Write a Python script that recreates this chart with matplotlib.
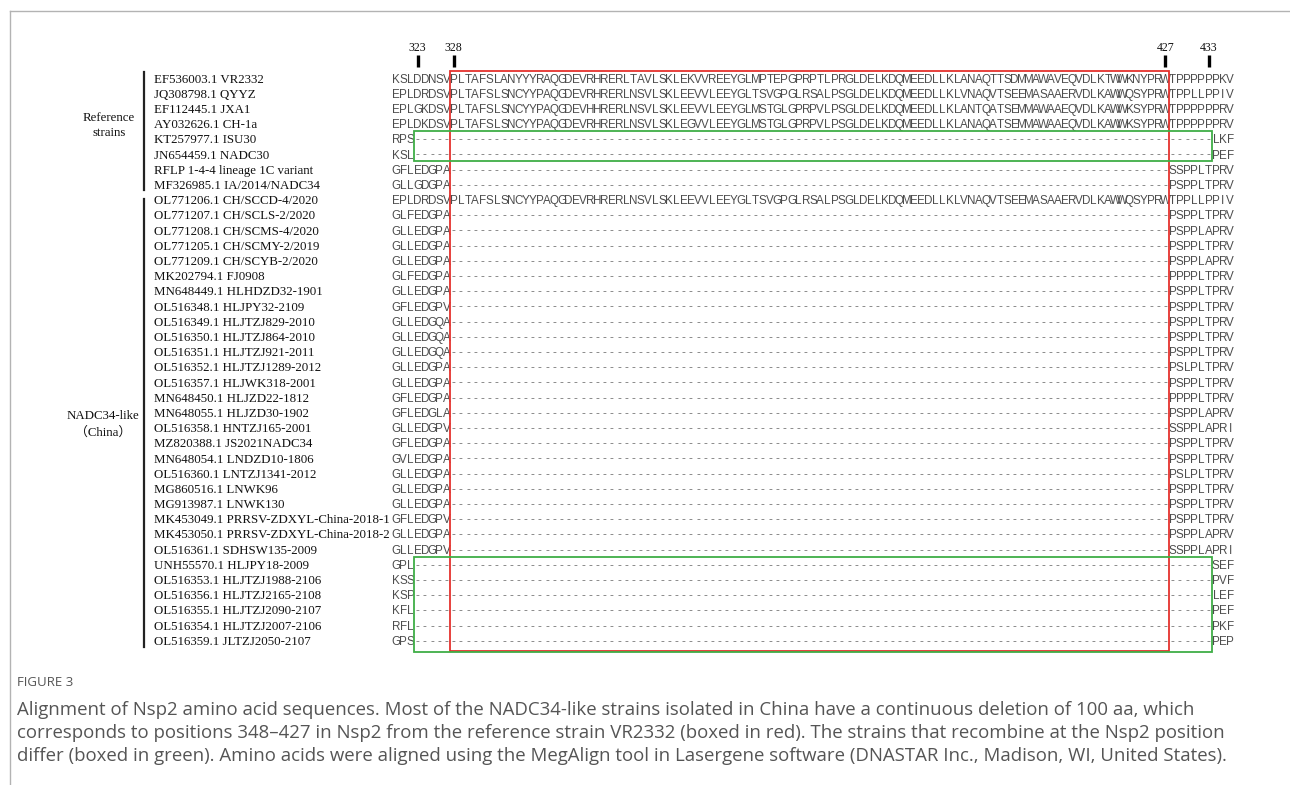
import matplotlib
matplotlib.use('Agg')
import matplotlib.pyplot as plt
from matplotlib.patches import Rectangle

# strain labels, one per alignment row
labels = [
    'EF536003.1 VR2332', 'JQ308798.1 QYYZ', 'EF112445.1 JXA1', 'AY032626.1 CH-1a',
    'KT257977.1 ISU30', 'JN654459.1 NADC30', 'RFLP 1-4-4 lineage 1C variant',
    'MF326985.1 IA/2014/NADC34', 'OL771206.1 CH/SCCD-4/2020', 'OL771207.1 CH/SCLS-2/2020',
    'OL771208.1 CH/SCMS-4/2020', 'OL771205.1 CH/SCMY-2/2019', 'OL771209.1 CH/SCYB-2/2020',
    'MK202794.1 FJ0908', 'MN648449.1 HLHDZD32-1901', 'OL516348.1 HLJPY32-2109',
    'OL516349.1 HLJTZJ829-2010', 'OL516350.1 HLJTZJ864-2010', 'OL516351.1 HLJTZJ921-2011',
    'OL516352.1 HLJTZJ1289-2012', 'OL516357.1 HLJWK318-2001', 'MN648450.1 HLJZD22-1812',
    'MN648055.1 HLJZD30-1902', 'OL516358.1 HNTZJ165-2001', 'MZ820388.1 JS2021NADC34',
    'MN648054.1 LNDZD10-1806', 'OL516360.1 LNTZJ1341-2012', 'MG860516.1 LNWK96',
    'MG913987.1 LNWK130', 'MK453049.1 PRRSV-ZDXYL-China-2018-1',
    'MK453050.1 PRRSV-ZDXYL-China-2018-2', 'OL516361.1 SDHSW135-2009',
    'UNH55570.1 HLJPY18-2009', 'OL516353.1 HLJTZJ1988-2106', 'OL516356.1 HLJTZJ2165-2108',
    'OL516355.1 HLJTZJ2090-2107', 'OL516354.1 HLJTZJ2007-2106', 'OL516359.1 JLTZJ2050-2107',
]

# residues before the deleted stretch
heads = [
    'KSLDDNSV', 'EPLDRDSV', 'EPLGKDSV', 'EPLDKDSV', 'RPS', 'KSL', 'GFLEDGPA', 'GLLGDGPA',
    'EPLDRDSV', 'GLFEDGPA', 'GLLEDGPA', 'GLLEDGPA', 'GLLEDGPA', 'GLFEDGPA', 'GLLEDGPA',
    'GFLEDGPV', 'GLLEDGQA', 'GLLEDGQA', 'GLLEDGQA', 'GLLEDGPA', 'GLLEDGPA', 'GFLEDGPA',
    'GFLEDGLA', 'GLLEDGPV', 'GFLEDGPA', 'GVLEDGPA', 'GLLEDGPA', 'GLLEDGPA', 'GLLEDGPA',
    'GFLEDGPV', 'GLLEDGPA', 'GLLEDGPV', 'GPL', 'KSS', 'KSP', 'KFL', 'RFL', 'GPS',
]

# the 100 aa region (328-427 of VR2332); None = deleted
mid_vr2332 = 'PLTAFSLANYYYRAQGDEVRHRERLTAVLSKLEKVVREEYGLMPTEPGPRPTLPRGLDELKDQMEEDLLKLANAQTTSDMMAWAVEQVDLKTWWKNYPRW'
mid_qyyz = 'PLTAFSLSNCYYPAQGDEVRHRERLNSVLSKLEEVVLEEYGLTSVGPGLRSALPSGLDELKDQMEEDLLKLVNAQVTSEEMASAAERVDLKAWWQSYPRW'
mid_jxa1 = 'PLTAFSLSNCYYPAQGDEVHHRERLNSVLSKLEEVVLEEYGLMSTGLGPRPVLPSGLDELKDQMEEDLLKLANTQATSEMMAWAAEQVDLKAWWKSYPRW'
mid_ch1a = 'PLTAFSLSNCYYPAQGDEVRHRERLNSVLSKLEGVVLEEYGLMSTGLGPRPVLPSGLDELKDQMEEDLLKLANAQATSEMMAWAAEQVDLKAWWKSYPRW'
mids = [mid_vr2332, mid_qyyz, mid_jxa1, mid_ch1a] + [None] * 4 + [mid_qyyz] + [None] * 29

# residues after the deleted stretch
tails = [
    'TPPPPPPKV', 'TPPLLPPIV', 'TPPPPPPRV', 'TPPPPPPRV', 'LKF', 'PEF', 'SSPPLTPRV', 'PSPPLTPRV',
    'TPPLLPPIV', 'PSPPLTPRV', 'PSPPLAPRV', 'PSPPLTPRV', 'PSPPLAPRV', 'PPPPLTPRV', 'PSPPLTPRV',
    'PSPPLTPRV', 'PSPPLTPRV', 'PSPPLTPRV', 'PSPPLTPRV', 'PSLPLTPRV', 'PSPPLTPRV', 'PPPPLTPRV',
    'PSPPLAPRV', 'SSPPLAPRI', 'PSPPLTPRV', 'PSPPLTPRV', 'PSLPLTPRV', 'PSPPLTPRV', 'PSPPLTPRV',
    'PSPPLTPRV', 'PSPPLAPRV', 'SSPPLAPRI', 'SEF', 'PVF', 'LEF', 'PEF', 'PKF', 'PEP',
]

ncol = 117
pos_labels = ['323', '328', '427', '433']
pos_cols = [3, 8, 107, 113]

caption = [
    'Alignment of Nsp2 amino acid sequences. Most of the NADC34-like strains isolated in China have a continuous deletion of 100 aa, which',
    'corresponds to positions 348\u2013427 in Nsp2 from the reference strain VR2332 (boxed in red). The strains that recombine at the Nsp2 position',
    'differ (boxed in green). Amino acids were aligned using the MegAlign tool in Lasergene software (DNASTAR Inc., Madison, WI, United States).',
]

# layout in pixels
W, H = 1290, 785
X0, CW = 392.5, 7.19      # left edge of alignment, column width
Y0, RH = 79.5, 15.2       # first row centre, row height


def px_x(p):
    return (p - X0) / CW - 0.5


def px_y(p):
    return (p - Y0) / RH


fig = plt.figure(figsize=(W / 100, H / 100), dpi=100)
ax = fig.add_axes([0, 0, 1, 1])
ax.axis('off')
ax.set_xlim(px_x(0), px_x(W))
ax.set_ylim(px_y(H), px_y(0))

seq_font = ['Liberation Sans Narrow', 'Liberation Sans']
serif = ['Liberation Serif', 'Noto Sans CJK SC']

for r in range(len(labels)):
    head, tail = heads[r], tails[r]
    body = mids[r] if mids[r] is not None else '-' * (ncol - len(head) - len(tail))
    row = head + body + tail
    for c, ch in enumerate(row):
        ax.text(c, r, ch, ha='center', va='center', fontsize=8.4,
                family=seq_font, color='#4d4d4d' if ch != '-' else '#7a7a7a')
    ax.text(px_x(154), r, labels[r], ha='left', va='center', fontsize=9.3,
            family=serif, color='#111111')

# position markers
ax.vlines(pos_cols, px_y(55), px_y(67), color='black', lw=2.4)
for lab, c in zip(pos_labels, pos_cols):
    ax.text(c, px_y(48), lab, ha='center', va='center', fontsize=8.6,
            family=serif, color='#111111')

# boxes
ax.add_patch(Rectangle((7.5, px_y(71)), 100, px_y(651) - px_y(71),
                       fill=False, ec='#e5322d', lw=1.3, zorder=5))
ax.add_patch(Rectangle((2.5, px_y(131)), 111, px_y(161) - px_y(131),
                       fill=False, ec='#3fae46', lw=1.3, zorder=5))
ax.add_patch(Rectangle((2.5, px_y(557)), 111, px_y(652) - px_y(557),
                       fill=False, ec='#3fae46', lw=1.3, zorder=5))

# group brackets
bx = px_x(144)
ax.plot([bx, bx], [px_y(72), px_y(190)], color='#222222', lw=1.6)
ax.plot([bx, bx], [px_y(199), px_y(647)], color='#222222', lw=1.6)
ax.text(px_x(109), px_y(118), 'Reference', ha='center', va='center', fontsize=9.3,
        family=serif, color='#111111')
ax.text(px_x(109), px_y(133), 'strains', ha='center', va='center', fontsize=9.3,
        family=serif, color='#111111')
ax.text(px_x(103), px_y(416), 'NADC34-like', ha='center', va='center', fontsize=9.3,
        family=serif, color='#111111')
ax.text(px_x(103), px_y(433), '\uff08China\uff09', ha='center', va='center', fontsize=9.3,
        family=serif, color='#111111')

# frame lines
ax.plot([px_x(10), px_x(W)], [px_y(11), px_y(11)], color='#b3b3b3', lw=1.0)
ax.plot([px_x(10), px_x(10)], [px_y(11), px_y(H)], color='#b3b3b3', lw=1.0)

# caption
fig.text(17 / W, 1 - 683 / H, 'FIGURE 3', ha='left', va='center', fontsize=9.5,
         family='Open Sans', color='#555555')
for i, line in enumerate(caption):
    fig.text(17 / W, 1 - (710 + 23 * i) / H, line, ha='left', va='center',
             fontsize=13.4, family='Open Sans', color='#555555')

fig.savefig('out.png', dpi=100)
